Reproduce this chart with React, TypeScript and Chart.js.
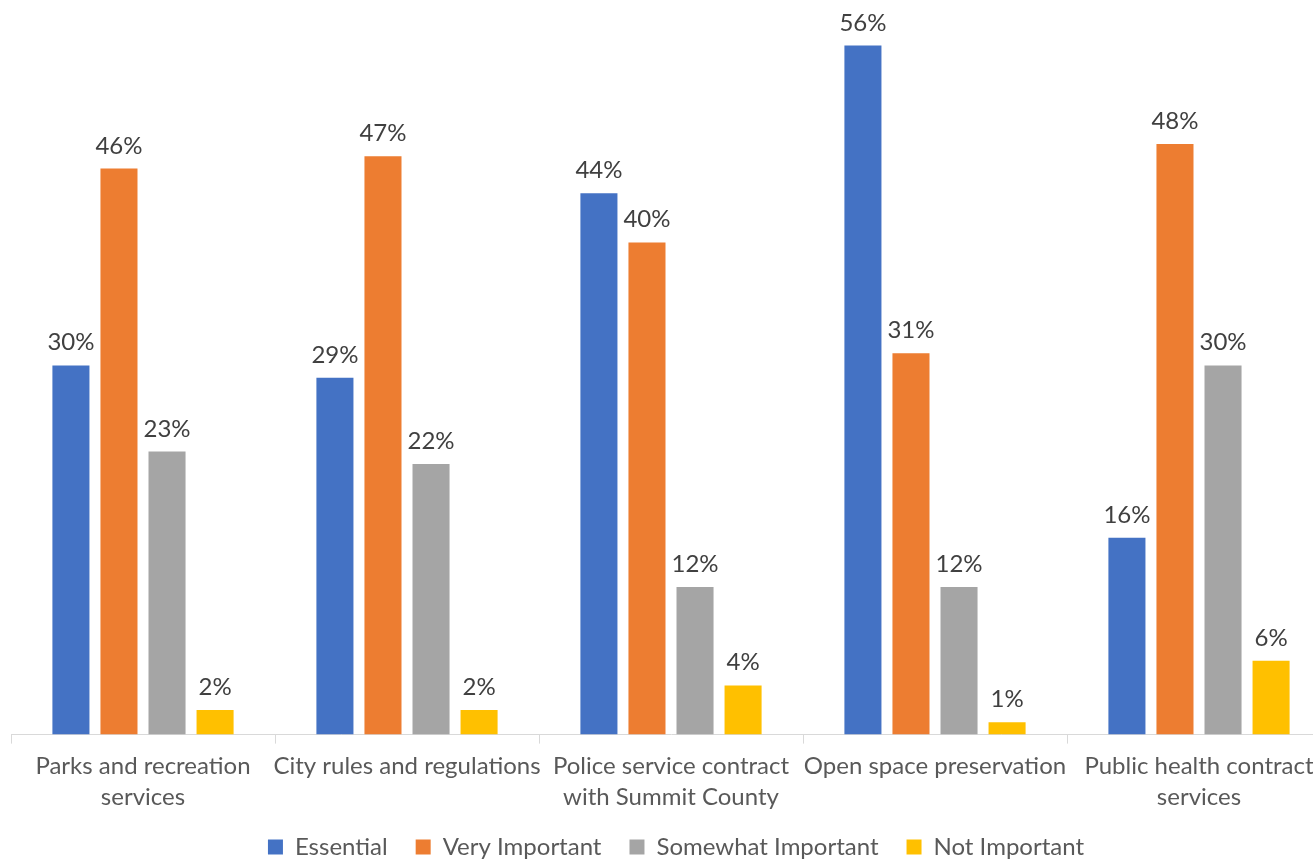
import React, { useEffect, useRef } from "react";
import { Chart, registerables } from "chart.js";

Chart.register(...registerables);

const categories: (string | string[])[] = [
  ["Parks and recreation", "services"],
  "City rules and regulations",
  ["Police service contract", "with Summit County"],
  "Open space preservation",
  ["Public health contract", "services"],
];

const seriesNames = ["Essential", "Very Important", "Somewhat Important", "Not Important"];
const essential = [30, 29, 44, 56, 16];
const veryImportant = [46, 47, 40, 31, 48];
const somewhatImportant = [23, 22, 12, 12, 30];
const notImportant = [2, 2, 4, 1, 6];
const seriesColors = ["#4472C4", "#ED7D31", "#A5A5A5", "#FFC000"];

const FONT = "Lato, 'Open Sans', sans-serif";
const FS = 24;

const dataLabelPlugin = {
  id: "dataLabels",
  afterDatasetsDraw(chart: any) {
    const ctx = chart.ctx;
    ctx.save();
    ctx.font = `${FS}px ${FONT}`;
    ctx.fillStyle = "#404040";
    ctx.textAlign = "center";
    ctx.textBaseline = "alphabetic";
    chart.data.datasets.forEach((ds: any, di: number) => {
      const meta = chart.getDatasetMeta(di);
      meta.data.forEach((bar: any, i: number) => {
        ctx.fillText(`${ds.data[i]}%`, bar.x, bar.y - 15);
      });
    });
    ctx.restore();
  },
};

const legendShiftPlugin = {
  id: "legendShift",
  afterLayout(chart: any) {
    const lg = chart.legend;
    if (lg) {
      lg.top -= 13;
      lg.bottom -= 13;
      lg.left += 5;
      lg.right += 5;
    }
  },
};

export default function App() {
  const ref = useRef<HTMLCanvasElement>(null);
  useEffect(() => {
    document.body.style.margin = "0";
    const all = [essential, veryImportant, somewhatImportant, notImportant];
    const chart = new Chart(ref.current!, {
      type: "bar",
      data: {
        labels: categories,
        datasets: all.map((d, i) => ({
          label: seriesNames[i],
          data: d,
          backgroundColor: seriesColors[i],
          borderWidth: 0,
          categoryPercentage: 0.728,
          barPercentage: 0.771,
        })),
      },
      options: {
        responsive: false,
        animation: false,
        layout: { padding: { left: 11, right: 14, top: 0, bottom: 0 } },
        scales: {
          x: {
            grid: {
              offset: true,
              drawOnChartArea: false,
              drawTicks: true,
              tickLength: 9,
              color: "#D9D9D9",
            },
            border: { color: "#D9D9D9", width: 1 },
            ticks: {
              color: "#595959",
              font: { family: FONT, size: FS, lineHeight: 1.3 },
              padding: 7,
              maxRotation: 0,
              autoSkip: false,
            },
          },
          y: {
            display: false,
            min: 0,
            max: 59.7,
          },
        },
        plugins: {
          legend: {
            position: "bottom",
            labels: {
              color: "#595959",
              font: { family: FONT, size: FS },
              boxWidth: 15,
              boxHeight: 15,
              padding: 28,
            },
          },
          tooltip: { enabled: false },
        },
      },
      plugins: [dataLabelPlugin, legendShiftPlugin],
    });
    return () => chart.destroy();
  }, []);
  return (
    <div style={{ width: 1313, height: 861, overflow: "hidden", position: "relative", background: "#fff" }}>
      <canvas ref={ref} width={1345} height={882} style={{ width: 1345, height: 882, display: "block" }} />
    </div>
  );
}
